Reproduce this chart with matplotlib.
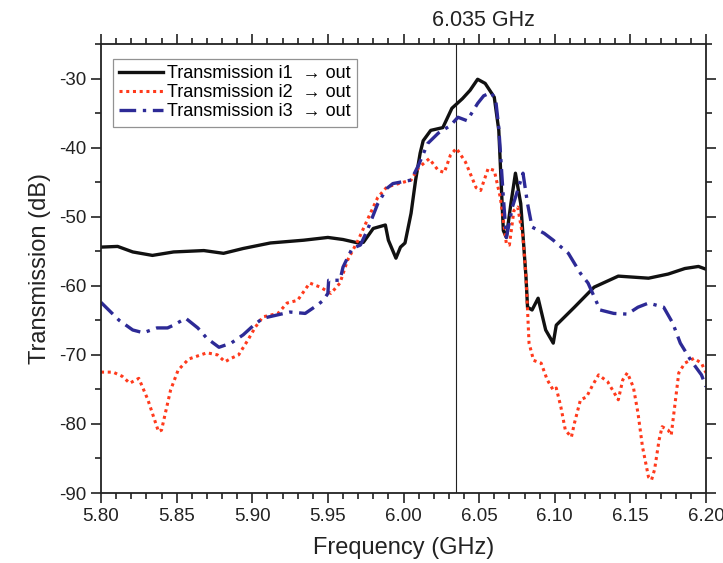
import matplotlib
matplotlib.use("Agg")
import matplotlib.pyplot as plt
from matplotlib.ticker import MultipleLocator

plt.rcParams["font.family"] = ["Liberation Sans", "DejaVu Sans"]
plt.rcParams["axes.unicode_minus"] = False

# *** Datos ***
freq_i1 = [5.800, 5.811, 5.821, 5.834, 5.848, 5.868, 5.881, 5.894, 5.912, 5.934,
           5.950, 5.960, 5.970, 5.9735, 5.980, 5.988, 5.990, 5.995, 5.998, 6.001,
           6.005, 6.008, 6.011, 6.013, 6.018, 6.026, 6.032, 6.039, 6.044, 6.049,
           6.054, 6.060, 6.063, 6.066, 6.068, 6.071, 6.074, 6.0775, 6.081, 6.082,
           6.085, 6.089, 6.094, 6.099, 6.101, 6.113, 6.126, 6.142, 6.162, 6.175,
           6.186, 6.195, 6.200]
t_i1 = [-54.4, -54.3, -55.1, -55.6, -55.1, -54.9, -55.3, -54.6, -53.8, -53.4,
        -53.0, -53.3, -53.8, -53.7, -51.7, -51.2, -53.4, -56.0, -54.4, -53.8,
        -49.5, -44.7, -40.8, -39.0, -37.5, -37.1, -34.3, -32.9, -31.7, -30.1,
        -30.7, -32.7, -37.5, -52.0, -53.0, -48.1, -43.7, -48.1, -58.8, -63.1,
        -63.5, -61.8, -66.4, -68.3, -65.7, -63.1, -60.2, -58.6, -58.9, -58.3,
        -57.5, -57.2, -57.6]

freq_i2 = [5.800, 5.808, 5.814, 5.819, 5.825, 5.831, 5.838, 5.840, 5.846, 5.851,
           5.858, 5.870, 5.877, 5.882, 5.886, 5.891, 5.897, 5.902, 5.907, 5.917,
           5.923, 5.930, 5.938, 5.945, 5.952, 5.958, 5.963, 5.970, 5.976, 5.983,
           5.989, 6.000, 6.005, 6.010, 6.017, 6.023, 6.027, 6.031, 6.035, 6.041,
           6.048, 6.051, 6.056, 6.060, 6.064, 6.068, 6.070, 6.073, 6.0755, 6.079,
           6.081, 6.082, 6.083, 6.086, 6.091, 6.095, 6.099, 6.101, 6.104, 6.107,
           6.111, 6.113, 6.117, 6.121, 6.125, 6.129, 6.135, 6.142, 6.145, 6.148,
           6.152, 6.155, 6.158, 6.162, 6.164, 6.166, 6.169, 6.171, 6.175, 6.177,
           6.179, 6.182, 6.186, 6.192, 6.197, 6.200]
t_i2 = [-72.5, -72.5, -73.1, -74.1, -73.4, -76.5, -81.1, -80.9, -75.1, -72.2,
        -70.6, -69.7, -70.0, -71.0, -70.5, -70.0, -67.9, -66.0, -64.5, -64.0,
        -62.5, -62.1, -59.6, -60.2, -61.1, -59.6, -56.3, -53.4, -50.5, -47.2,
        -45.7, -45.0, -44.7, -42.9, -41.6, -43.3, -43.6, -41.1, -40.1, -42.1,
        -45.8, -46.2, -43.0, -43.3, -47.2, -53.9, -54.1, -49.1, -48.6, -53.0,
        -58.8, -63.5, -68.3, -70.8, -71.2, -73.6, -75.1, -74.8, -77.5, -80.9,
        -81.9, -79.9, -76.5, -76.1, -74.4, -72.9, -73.9, -76.5, -73.6, -72.6,
        -74.7, -78.4, -83.3, -87.7, -88.1, -86.6, -82.3, -80.4, -80.9, -81.6,
        -78.0, -72.6, -71.2, -70.5, -71.2, -72.6]

freq_i3 = [5.800, 5.812, 5.821, 5.828, 5.837, 5.844, 5.848, 5.856, 5.864, 5.870,
           5.878, 5.886, 5.894, 5.901, 5.907, 5.917, 5.925, 5.935, 5.943, 5.947,
           5.950, 5.9505, 5.958, 5.960, 5.966, 5.9715, 5.976, 5.983, 5.989, 5.993,
           6.005, 6.010, 6.016, 6.023, 6.031, 6.036, 6.042, 6.049, 6.053, 6.058,
           6.061, 6.063, 6.066, 6.068, 6.072, 6.079, 6.082, 6.085, 6.093, 6.099,
           6.109, 6.117, 6.122, 6.130, 6.139, 6.148, 6.155, 6.162, 6.172, 6.178,
           6.183, 6.190, 6.197, 6.200]
t_i3 = [-62.4, -65.0, -66.4, -66.8, -66.1, -66.1, -65.7, -64.7, -66.1, -67.6,
        -68.9, -68.3, -67.1, -65.7, -64.7, -64.2, -63.8, -64.0, -62.8, -62.1,
        -61.1, -59.2, -59.2, -57.3, -54.6, -54.1, -52.0, -48.1, -45.9, -45.2,
        -44.7, -42.5, -39.4, -37.9, -36.8, -35.6, -36.1, -33.6, -32.5, -32.0,
        -33.2, -37.1, -47.2, -53.0, -48.6, -43.7, -48.1, -51.5, -52.4, -53.4,
        -55.3, -58.2, -59.6, -63.5, -64.0, -64.1, -63.1, -62.5, -63.1, -65.4,
        -68.3, -70.8, -72.9, -74.6]

F_MARK = 6.035

C_I1 = "#111111"
C_I2 = "#ff3a1c"
C_I3 = "#2d2a96"
C_TXT = "#222222"

fig = plt.figure(figsize=(7.23, 5.63), dpi=100)
ax = fig.add_axes([0.1397, 0.1243, 0.8368, 0.7975])

ax.plot(freq_i1, t_i1, color=C_I1, lw=2.4, ls="-", label="Transmission i1  \u2192 out")
ax.plot(freq_i2, t_i2, color=C_I2, lw=2.2, ls=(0, (1, 1.2)), label="Transmission i2  \u2192 out")
ax.plot(freq_i3, t_i3, color=C_I3, lw=2.4, ls=(0, (5, 2, 1, 2)), label="Transmission i3  \u2192 out")

ax.axvline(F_MARK, color=C_TXT, lw=0.8, zorder=1)
ax.text(6.053, 1.052, "6.035 GHz", transform=ax.get_xaxis_transform(),
        ha="center", va="center", fontsize=15.5, color=C_TXT)

ax.set_xlim(5.80, 6.20)
ax.set_ylim(-90, -25)
ax.xaxis.set_major_locator(MultipleLocator(0.05))
ax.xaxis.set_minor_locator(MultipleLocator(0.01))
ax.yaxis.set_major_locator(MultipleLocator(10))
ax.yaxis.set_minor_locator(MultipleLocator(5))
ax.xaxis.set_major_formatter(plt.FuncFormatter(lambda v, p: f"{v:.2f}"))

ax.tick_params(which="both", direction="out", top=True, right=True,
               labeltop=False, labelright=False, colors=C_TXT,
               labelsize=13.5, width=1.2)
ax.tick_params(which="major", length=7)
ax.tick_params(which="minor", length=4)
for s in ax.spines.values():
    s.set_linewidth(1.3)
    s.set_color(C_TXT)

ax.set_xlabel("Frequency (GHz)", fontsize=17, color=C_TXT, labelpad=9)
ax.set_ylabel("Transmission (dB)", fontsize=17, color=C_TXT, labelpad=6)

leg = ax.legend(loc="upper left", bbox_to_anchor=(0.02, 0.967), fontsize=13,
                frameon=True, fancybox=False, edgecolor="#777777",
                handlelength=2.4, handletextpad=0.25, borderpad=0.35,
                labelspacing=0.12, borderaxespad=0)
leg.get_frame().set_linewidth(0.9)

fig.savefig("out.png", dpi=100)
